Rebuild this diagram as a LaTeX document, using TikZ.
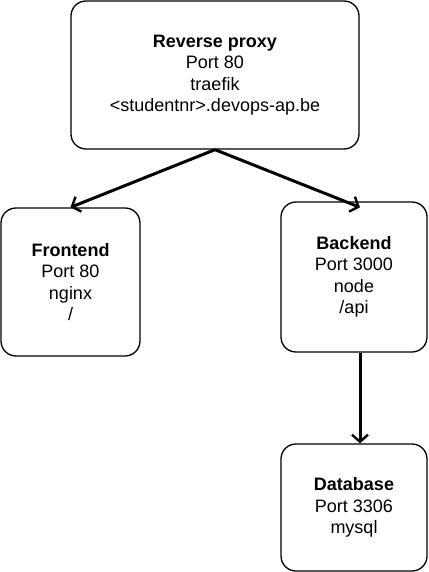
\documentclass[tikz,border=0pt]{standalone}
\usepackage{fontspec}
\setmainfont{Liberation Sans}
\usetikzlibrary{arrows.meta}
\usetikzlibrary{positioning}
\begin{document}
\begin{tikzpicture}[x=1pt,y=-1pt,
    box/.style={draw=black,line width=1.3pt,rounded corners=15pt,align=center,
      font=\fontsize{18}{21.5}\selectfont,inner sep=0pt},
    link/.style={draw=black,line width=3pt,-{Straight Barb[length=7pt,width=16pt,line width=2.4pt]}}]
    \useasboundingbox (0,0) rectangle (428,572);
    \begin{scope}[every node/.style={box}]
      \node[minimum width=288pt,minimum height=148pt] (proxy) at (215,75)
        {\textbf{Reverse proxy}\\Port 80\\traefik\\<studentnr>.devops-ap.be};
      \node[minimum width=139pt,minimum height=148pt] (frontend) at (70.5,282)
        {\textbf{Frontend}\\Port 80\\nginx\\/};
      \node[minimum width=146pt,minimum height=150pt] (backend) at (354,277)
        {\textbf{Backend}\\Port 3000\\node\\/api};
      \node[minimum width=146pt,minimum height=127pt] (database) at (354,507.5)
        {\textbf{Database}\\Port 3306\\mysql};
    \end{scope}
    \begin{scope}[every edge/.style={link}]
      \path (proxy.south) edge (frontend.north);
      \path (proxy.south) edge ([xshift=6pt,yshift=-6pt]backend.north);
      \path (backend.south -| 360,0) edge (database.north -| 360,0);
    \end{scope}
  \end{tikzpicture}
\end{document}
